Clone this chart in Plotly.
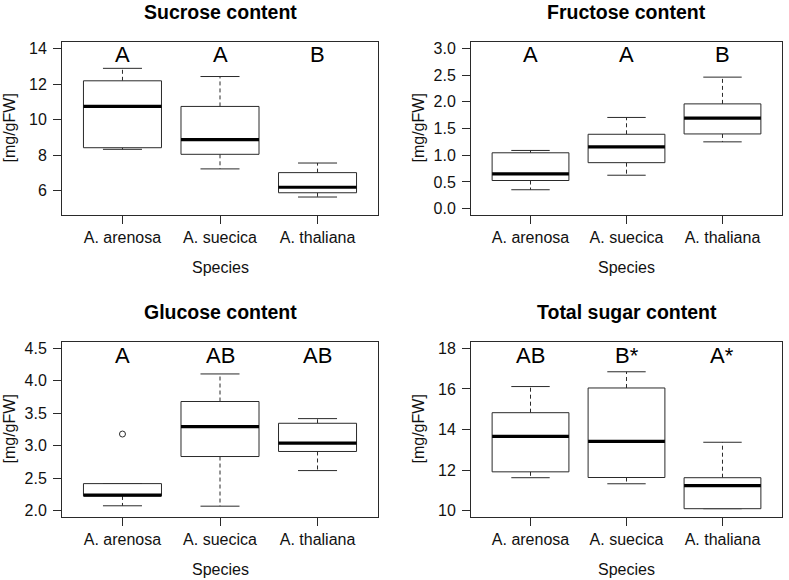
import plotly.graph_objects as go

species = ["A. arenosa", "A. suecica", "A. thaliana"]
positions = [1, 2, 3]

titles = ["Sucrose content", "Fructose content", "Glucose content", "Total sugar content"]

sucrose_low = [8.33, 7.23, 5.65]
sucrose_q1 = [8.42, 8.05, 5.89]
sucrose_med = [10.74, 8.88, 6.20]
sucrose_q3 = [12.18, 10.74, 7.02]
sucrose_high = [12.88, 12.42, 7.56]
sucrose_letters = ["A", "A", "B"]

fructose_low = [0.353, 0.625, 1.25]
fructose_q1 = [0.526, 0.86, 1.398]
fructose_med = [0.65, 1.157, 1.695]
fructose_q3 = [1.045, 1.392, 1.961]
fructose_high = [1.089, 1.707, 2.462]
fructose_letters = ["A", "A", "B"]

glucose_low = [2.073, 2.067, 2.616]
glucose_q1 = [2.225, 2.833, 2.911]
glucose_med = [2.238, 3.294, 3.04]
glucose_q3 = [2.415, 3.682, 3.346]
glucose_high = [2.415, 4.107, 3.418]
glucose_outlier_x = [1]
glucose_outlier_y = [3.18]
glucose_letters = ["A", "AB", "AB"]

total_low = [11.62, 11.32, 10.09]
total_q1 = [11.91, 11.63, 10.09]
total_med = [13.66, 13.41, 11.23]
total_q3 = [14.83, 16.05, 11.62]
total_high = [16.12, 16.85, 13.37]
total_letters = ["AB", "B*", "A*"]

sucrose_ticks = [6, 8, 10, 12, 14]
fructose_ticks = [0.0, 0.5, 1.0, 1.5, 2.0, 2.5, 3.0]
glucose_ticks = [2.0, 2.5, 3.0, 3.5, 4.0, 4.5]
total_ticks = [10, 12, 14, 16, 18]

sucrose_lim = [5, 14]
fructose_lim = [0, 3]
glucose_lim = [2, 4.5]
total_lim = [10, 18]

y_title = "[mg/gFW]"
x_title = "Species"

panels = [
    dict(low=sucrose_low, q1=sucrose_q1, med=sucrose_med, q3=sucrose_q3, high=sucrose_high,
         letters=sucrose_letters, ticks=sucrose_ticks, lim=sucrose_lim, fmt="d", out_x=[], out_y=[]),
    dict(low=fructose_low, q1=fructose_q1, med=fructose_med, q3=fructose_q3, high=fructose_high,
         letters=fructose_letters, ticks=fructose_ticks, lim=fructose_lim, fmt=".1f", out_x=[], out_y=[]),
    dict(low=glucose_low, q1=glucose_q1, med=glucose_med, q3=glucose_q3, high=glucose_high,
         letters=glucose_letters, ticks=glucose_ticks, lim=glucose_lim, fmt=".1f",
         out_x=glucose_outlier_x, out_y=glucose_outlier_y),
    dict(low=total_low, q1=total_q1, med=total_med, q3=total_q3, high=total_high,
         letters=total_letters, ticks=total_ticks, lim=total_lim, fmt="d", out_x=[], out_y=[]),
]

W, H = 789, 580
x_domains = [[62 / W, 378 / W], [471 / W, 782 / W], [62 / W, 378 / W], [471 / W, 782 / W]]
y_domains = [[1 - 215 / H, 1 - 42 / H], [1 - 215 / H, 1 - 42 / H],
             [1 - 517 / H, 1 - 342 / H], [1 - 517 / H, 1 - 342 / H]]

FONT = "Liberation Sans, Arial, Helvetica, sans-serif"
LINE = "#2a2a2a"
half = 0.4
cap = 0.2

fig = go.Figure()
layout = {}
annotations = []

for k, p in enumerate(panels):
    sfx = "" if k == 0 else str(k + 1)
    xa, ya = "x" + sfx, "y" + sfx
    bx, by = [], []
    mx, my = [], []
    wx, wy = [], []
    cx, cy = [], []
    for i, pos in enumerate(positions):
        bx += [pos - half, pos + half, pos + half, pos - half, pos - half, None]
        by += [p["q1"][i], p["q1"][i], p["q3"][i], p["q3"][i], p["q1"][i], None]
        mx += [pos - half, pos + half, None]
        my += [p["med"][i], p["med"][i], None]
        wx += [pos, pos, None, pos, pos, None]
        wy += [p["q3"][i], p["high"][i], None, p["q1"][i], p["low"][i], None]
        cx += [pos - cap, pos + cap, None, pos - cap, pos + cap, None]
        cy += [p["high"][i], p["high"][i], None, p["low"][i], p["low"][i], None]
    fig.add_trace(go.Scatter(x=wx, y=wy, mode="lines", xaxis=xa, yaxis=ya,
                             line=dict(color=LINE, width=1, dash="4px,3px"), showlegend=False, hoverinfo="skip"))
    fig.add_trace(go.Scatter(x=cx, y=cy, mode="lines", xaxis=xa, yaxis=ya,
                             line=dict(color=LINE, width=1), showlegend=False, hoverinfo="skip"))
    fig.add_trace(go.Scatter(x=bx, y=by, mode="lines", xaxis=xa, yaxis=ya, fill="toself",
                             fillcolor="white", line=dict(color=LINE, width=1),
                             showlegend=False, hoverinfo="skip"))
    fig.add_trace(go.Scatter(x=mx, y=my, mode="lines", xaxis=xa, yaxis=ya,
                             line=dict(color="black", width=3.2), showlegend=False, hoverinfo="skip"))
    if p["out_x"]:
        fig.add_trace(go.Scatter(x=p["out_x"], y=p["out_y"], mode="markers", xaxis=xa, yaxis=ya,
                                 marker=dict(symbol="circle-open", size=6, color=LINE, line=dict(width=1)),
                                 showlegend=False, hoverinfo="skip"))

    lo, hi = p["lim"]
    ext = (hi - lo) * 0.04
    layout["xaxis" + sfx] = dict(
        domain=x_domains[k], range=[0.38, 3.62], anchor=ya, automargin=False,
        tickmode="array", tickvals=positions, ticktext=species,
        ticks="outside", ticklen=8, tickcolor=LINE, tickwidth=1,
        showline=True, mirror=True, linecolor=LINE, linewidth=1,
        showgrid=False, zeroline=False, fixedrange=True,
        tickfont=dict(family=FONT, size=16, color="#111"),
    )
    layout["yaxis" + sfx] = dict(
        domain=y_domains[k], range=[lo - ext, hi + ext], anchor=xa, automargin=False,
        tickmode="array", tickvals=p["ticks"],
        ticktext=[format(v, p["fmt"]) if p["fmt"] != "d" else str(int(v)) for v in p["ticks"]],
        ticks="outside", ticklen=8, tickcolor=LINE, tickwidth=1, ticklabelstandoff=3,
        showline=True, mirror=True, linecolor=LINE, linewidth=1,
        showgrid=False, zeroline=False, fixedrange=True,
        tickfont=dict(family=FONT, size=16, color="#111"),
    )
    xd, yd = xa + " domain", ya + " domain"
    annotations.append(dict(text="<b>" + titles[k] + "</b>", xref=xd, yref=yd, x=0.5, y=1,
                            yshift=30, showarrow=False, yanchor="middle", xanchor="center",
                            font=dict(family=FONT, size=19.5, color="black")))
    annotations.append(dict(text=x_title, xref=xd, yref=yd, x=0.5, y=0, yshift=-52,
                            showarrow=False, yanchor="middle", xanchor="center",
                            font=dict(family=FONT, size=16, color="#111")))
    annotations.append(dict(text=y_title, xref=xd, yref=yd, x=0, y=0.5, xshift=-53,
                            textangle=-90, showarrow=False, yanchor="middle", xanchor="center",
                            font=dict(family=FONT, size=16, color="#111")))
    for i, pos in enumerate(positions):
        annotations.append(dict(text=p["letters"][i], xref=xa, yref=yd, x=pos, y=0.925,
                                showarrow=False, yanchor="middle", xanchor="center",
                                font=dict(family=FONT, size=22, color="black")))

fig.update_layout(
    width=W, height=H, margin=dict(l=0, r=0, t=0, b=0),
    paper_bgcolor="white", plot_bgcolor="white",
    showlegend=False, annotations=annotations, **layout,
)

fig.write_html("out.html", config={"displayModeBar": False},
               post_script="document.body.style.margin='0px';document.body.style.overflow='hidden';")
